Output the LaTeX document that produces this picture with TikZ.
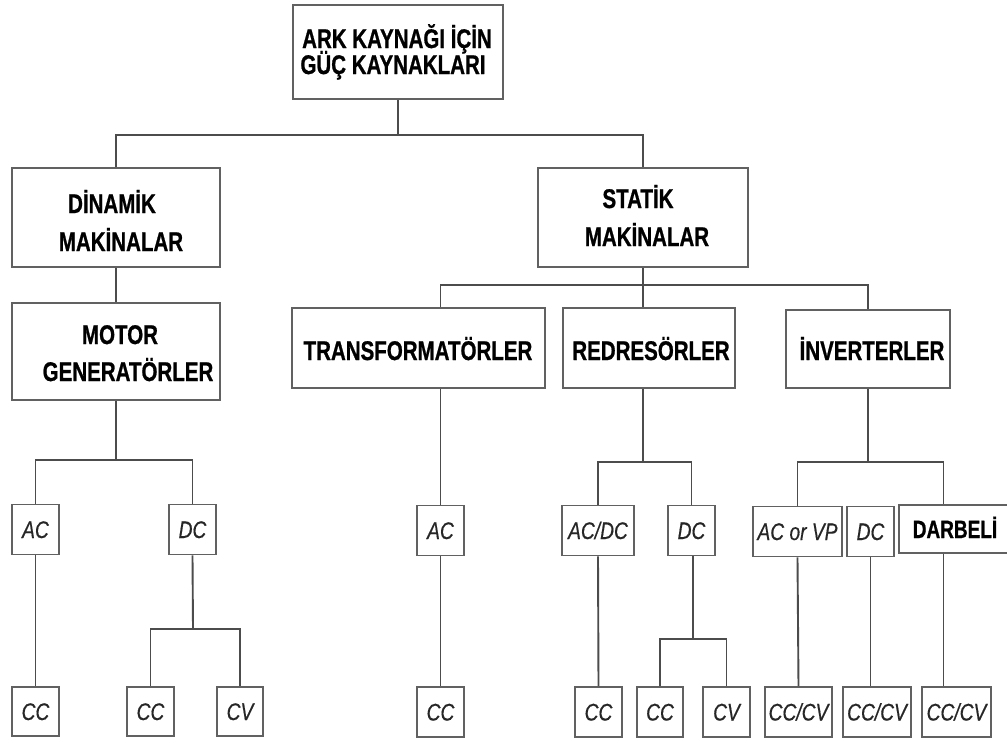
\documentclass[tikz,border=0pt]{standalone}
\usepackage{fontspec}
\newfontfamily\narrowfont{Liberation Sans}[FakeStretch=0.76, BoldFeatures={FakeBold=0.8}]
\newfontfamily\tagfont{Liberation Sans}[FakeStretch=0.8, ItalicFeatures={FakeBold=0.4}]
\tikzset{
  box/.style={draw=black!62, line width=1.9pt, fill=white, inner sep=0pt},
  headtxt/.style={anchor=base, inner sep=0pt, font=\narrowfont\bfseries\fontsize{27}{30}\selectfont},
  tag/.style={box, minimum height=50pt, text height=17pt, text depth=0pt, text=black!85,
    font=\tagfont\itshape\fontsize{24}{26}\selectfont},
  wire/.style={draw=black!70, line width=1.9pt},
}
\begin{document}
\begin{tikzpicture}[x=1pt,y=-1pt]
\useasboundingbox (0,0) rectangle (1007,742);
\clip (0,0) rectangle (1007,742);
\fill[white] (0,0) rectangle (1007,742);

% upper levels: frames
\node[box, minimum width=210pt, minimum height=94pt] (root)  at (398,52)    {};
\node[box, minimum width=208pt, minimum height=99pt] (din)   at (116,217.5) {};
\node[box, minimum width=210pt, minimum height=99pt] (stat)  at (643,217.5) {};
\node[box, minimum width=208pt, minimum height=97pt] (motor) at (116,351.5) {};
\node[box, minimum width=253pt, minimum height=80pt] (trans) at (418.5,348) {};
\node[box, minimum width=172pt, minimum height=80pt] (redr)  at (649,348)   {};
\node[box, minimum width=164pt, minimum height=78pt] (inv)   at (868,349)   {};

% upper levels: titles
\node[headtxt] (rootA)  at (397,48)  {ARK KAYNAĞI İÇİN};
\node[headtxt] (rootB)  at (393,74)  {GÜÇ KAYNAKLARI};
\node[headtxt] (dinA)   at (112,213) {DİNAMİK};
\node[headtxt] (dinB)   at (121,251) {MAKİNALAR};
\node[headtxt] (statA)  at (638,208) {STATİK};
\node[headtxt] (statB)  at (647,246) {MAKİNALAR};
\node[headtxt] (motorA) at (120,344) {MOTOR};
\node[headtxt] (motorB) at (128,381) {GENERATÖRLER};
\node[headtxt] (transA) at (418,360) {TRANSFORMATÖRLER};
\node[headtxt] (redrA)  at (651,360) {REDRESÖRLER};
\node[headtxt] (invA)   at (872,360) {İNVERTERLER};

% current types
\node[tag, minimum width=47pt] (acM)  at (35.5,529.5) {AC};
\node[tag, minimum width=47pt] (dcM)  at (192.5,529.5) {DC};
\node[tag, minimum width=47pt] (acT)  at (440.5,530.5) {AC};
\node[tag, minimum width=72pt] (acdc) at (598,530.5) {AC/DC};
\node[tag, minimum width=47pt] (dcR)  at (691.5,530.5) {DC};
\node[tag, minimum width=89pt] (acvp) at (797.5,531.5) {AC or VP};
\node[tag, minimum width=47pt] (dcI)  at (870.5,531.5) {DC};
\node[box, minimum width=112pt, minimum height=48pt, text height=18pt, text depth=0pt,
      font=\narrowfont\bfseries\fontsize{25}{28}\selectfont] (darb) at (955,529) {DARBELİ};

% output characteristics
\node[tag, minimum width=47pt, minimum height=49pt] (ccM1) at (35.5,711.5)  {CC};
\node[tag, minimum width=47pt, minimum height=49pt] (ccM2) at (150.5,711.5) {CC};
\node[tag, minimum width=46pt, minimum height=49pt] (cvM)  at (240,711.5)   {CV};
\node[tag, minimum width=47pt, minimum height=50pt] (ccT)  at (440.5,712)   {CC};
\node[tag, minimum width=47pt, minimum height=50pt] (ccR1) at (598.5,712)   {CC};
\node[tag, minimum width=46pt, minimum height=50pt] (ccR2) at (660,712)     {CC};
\node[tag, minimum width=47pt, minimum height=50pt] (cvR)  at (726.5,712)   {CV};
\node[tag, minimum width=67pt, minimum height=50pt] (ccI1) at (798.5,712)   {CC/CV};
\node[tag, minimum width=68pt, minimum height=50pt] (ccI2) at (877,712)     {CC/CV};
\node[tag, minimum width=69pt, minimum height=50pt] (ccI3) at (956.5,712)   {CC/CV};

% branch points
\coordinate (barA)  at (398,135);
\coordinate (barS)  at (643,285);
\coordinate (barM)  at (116,460);
\coordinate (barM2) at (193,629);
\coordinate (barR)  at (643,462);
\coordinate (barR2) at (693,639);
\coordinate (barI)  at (868,462);
\coordinate (dx)    at (943.5,462);

% connectors
\draw[wire] (root.south) -- (barA);
\draw[wire] (din.north) |- (barA) -| (stat.north);
\draw[wire] (din.south) -- (motor.north);
\draw[wire] (stat.south) -- (stat.south |- trans.north);
\draw[wire] (acT |- trans.north) |- (barS) -| (inv.north);

\draw[wire] (motor.south) -- (barM);
\draw[wire] (acM.north) |- (barM) -| (dcM.north);
\draw[wire] (acM.south) -- (ccM1.north);
\draw[wire] (dcM.south) -- (barM2);
\draw[wire] (ccM2.north) |- (barM2) -| (cvM.north);

\draw[wire] (acT |- trans.south) -- (acT.north);
\draw[wire] (acT.south) -- (ccT.north);

\draw[wire] (barR |- redr.south) -- (barR);
\draw[wire] (acdc.north) |- (barR) -| (dcR.north);
\draw[wire] (acdc.south) -- (ccR1.north);
\draw[wire] (barR2 |- dcR.south) -- (barR2);
\draw[wire] (ccR2.north) |- (barR2) -| (cvR.north);

\draw[wire] (inv.south) -- (barI);
\draw[wire] (acvp.north) |- (dx) -- (dx |- darb.north);
\draw[wire] (acvp.south) -- (ccI1.north);
\draw[wire] (dcI.south) -- (dcI.south |- ccI2.north);
\draw[wire] (dx |- darb.south) -- (dx |- ccI3.north);
\end{tikzpicture}
\end{document}
